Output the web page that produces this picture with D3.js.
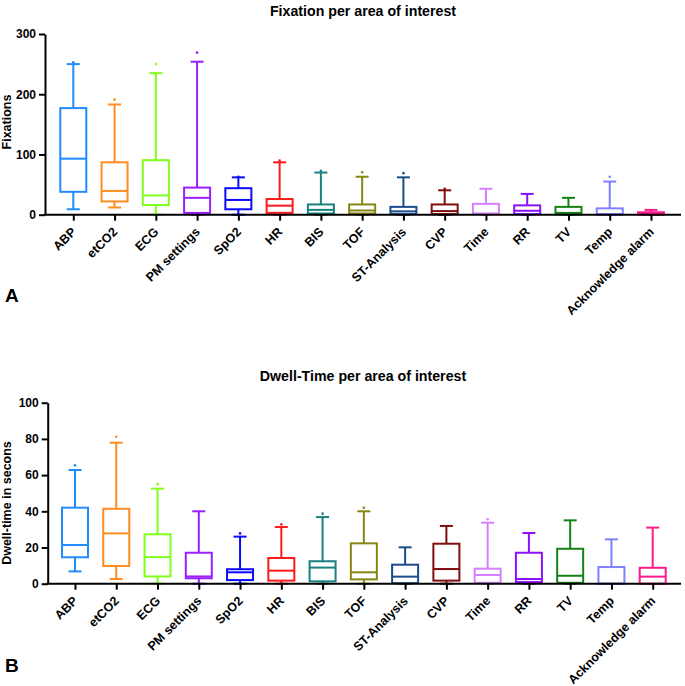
<!DOCTYPE html>
<html>
<head>
<meta charset="utf-8">
<script src="https://cdn.jsdelivr.net/npm/d3@7"></script>
<style>
  body { margin: 0; background: #fff; }
  svg { display: block; font-family: "Liberation Sans", Arial, sans-serif; }
  .tick text { font-weight: bold; fill: #000; }
  .xax .tick text { font-size: 12.5px; }
  .yax .tick text { font-size: 12px; font-family: "Liberation Sans Narrow", "Liberation Sans", Arial, sans-serif; }
  .ylab { font-family: "Liberation Sans Narrow", "Liberation Sans", Arial, sans-serif; font-weight: bold; font-size: 12.5px; }
</style>
</head>
<body>
<svg width="685" height="686"></svg>
<script>
const categories = ['ABP', 'etCO2', 'ECG', 'PM settings', 'SpO2', 'HR', 'BIS', 'TOF',
  'ST-Analysis', 'CVP', 'Time', 'RR', 'TV', 'Temp', 'Acknowledge alarm'];

const colors = ['#1f8bff', '#ff8c1f', '#80ff1a', '#9a1fff', '#0a0aff', '#ff1a1a', '#1a8080', '#868612',
  '#1a4c8c', '#800d0d', '#d67fff', '#8a12ff', '#148214', '#7f7fff', '#ff1a8c'];

// Fixations (panel A)
const fixMin = [9, 12, 0, 0, 0, 0, 0, 0, 0, 0, 0, 0, 0, 0, 0];
const fixQ1 = [38, 22, 16, 3, 9, 3, 2, 2, 1, 1, 1, 1, 0.5, 0, 0];
const fixMed = [93, 39.5, 32, 28, 24.5, 15, 8, 7, 5.5, 6, 2, 6.5, 3, 1, 2];
const fixQ3 = [177, 87, 90.5, 45, 44, 26, 17, 17, 13, 17, 18, 15.5, 13, 10.5, 4];
const fixMax = [250, 183, 235, 254, 62, 87, 70, 63, 62, 40.5, 43, 34.5, 28, 55, 8];
const fixOut = [253, 191, 250, 269, 63, 90, 73, 70.5, 69, 43, null, null, null, 63, null];
const fixTicks = [0, 100, 200, 300];

// Dwell-time (panel B)
const dwMin = [6.8, 2.6, 0, 0, 0, 0, 0, 0, 0, 0, 0, 0, 0, 0, 0];
const dwQ1 = [14.6, 9.8, 4, 3, 2, 1.7, 1.3, 2.4, 0.3, 1.7, 0.5, 0.9, 0.5, 0, 0];
const dwMed = [21.4, 27.8, 14.7, 4, 6.3, 7.2, 8.9, 6.3, 3.9, 8.1, 4.8, 2.6, 4.4, 0, 3.9];
const dwQ3 = [42, 41.4, 27.3, 17.1, 8, 14.2, 12.4, 22.3, 10.5, 22.1, 8.3, 17.1, 19.3, 9.2, 8.8];
const dwMax = [62.8, 77.9, 52.5, 40, 26, 31.3, 36.8, 40, 20.1, 31.9, 33.7, 28, 35, 24.5, 31];
const dwOut = [65.4, 81.2, 55, null, 27.8, 32.8, 38.7, 42, null, null, 35.6, null, null, null, null];
const dwTicks = [0, 20, 40, 60, 80, 100];

const svg = d3.select('svg');

function drawPanel(p) {
  const y = d3.scaleLinear().domain(p.domain).range([p.bottom, p.top]);
  const x = d3.scalePoint().domain(categories).range([p.firstX, p.lastX]);
  const g = svg.append('g');

  const rows = categories.map((c, i) => ({
    c, color: colors[i], min: p.min[i], q1: p.q1[i], med: p.med[i], q3: p.q3[i], max: p.max[i], out: p.out[i]
  }));

  const box = g.selectAll('g.box')
    .data(rows)
    .enter()
    .append('g')
    .attr('class', 'box')
    .attr('stroke', d => d.color)
    .attr('stroke-width', 2)
    .attr('fill', 'none');

  const bw = 26, cw = 13;

  // whiskers
  box.append('line')
    .attr('x1', d => x(d.c)).attr('x2', d => x(d.c))
    .attr('y1', d => y(d.max)).attr('y2', d => y(d.q3));
  box.append('line')
    .attr('x1', d => x(d.c)).attr('x2', d => x(d.c))
    .attr('y1', d => y(d.q1)).attr('y2', d => y(d.min));
  box.append('line')
    .attr('x1', d => x(d.c) - cw / 2).attr('x2', d => x(d.c) + cw / 2)
    .attr('y1', d => y(d.max)).attr('y2', d => y(d.max));
  box.append('line')
    .attr('x1', d => x(d.c) - cw / 2).attr('x2', d => x(d.c) + cw / 2)
    .attr('y1', d => y(d.min)).attr('y2', d => y(d.min));

  box.append('rect')
    .attr('x', d => x(d.c) - bw / 2)
    .attr('width', bw)
    .attr('y', d => y(d.q3))
    .attr('height', d => Math.max(y(d.q1) - y(d.q3), 1))
    .attr('fill', '#fff');

  box.append('line')
    .attr('x1', d => x(d.c) - bw / 2).attr('x2', d => x(d.c) + bw / 2)
    .attr('y1', d => y(d.med)).attr('y2', d => y(d.med));

  box.filter(d => d.out != null)
    .append('circle')
    .attr('cx', d => x(d.c))
    .attr('cy', d => y(d.out))
    .attr('r', 1.3)
    .attr('stroke', 'none')
    .attr('fill', d => d.color);

  // y axis
  const yAxis = g.append('g')
    .attr('class', 'yax')
    .attr('transform', `translate(${p.axisX},0)`)
    .call(d3.axisLeft(y).tickValues(p.ticks).tickSize(6).tickSizeOuter(0));
  yAxis.select('.domain').attr('stroke-width', 2);
  yAxis.selectAll('.tick line').attr('stroke-width', 2);

  // x axis
  const xAxis = g.append('g')
    .attr('class', 'xax')
    .attr('transform', `translate(0,${p.bottom})`)
    .call(d3.axisBottom(x).tickSize(6).tickSizeOuter(0));
  xAxis.select('.domain').remove();
  xAxis.selectAll('.tick line').attr('stroke-width', 2);
  xAxis.selectAll('.tick text')
    .attr('text-anchor', 'end')
    .attr('y', 0)
    .attr('dy', 0)
    .attr('transform', 'translate(3,18) rotate(-45)');
  g.append('line')
    .attr('x1', p.axisX - 1).attr('x2', 681)
    .attr('y1', p.bottom).attr('y2', p.bottom)
    .attr('stroke', '#000').attr('stroke-width', 2);

  g.append('text')
    .attr('x', 363).attr('y', p.titleY)
    .attr('text-anchor', 'middle')
    .style('font-weight', 'bold').style('font-size', '14.2px')
    .text(p.title);

  g.append('text')
    .attr('class', 'ylab')
    .attr('transform', `translate(11,${p.labelY}) rotate(-90)`)
    .attr('text-anchor', 'middle')
    .text(p.yLabel);

  g.append('text')
    .attr('x', 5).attr('y', p.letterY)
    .style('font-weight', 'bold').style('font-size', '19px')
    .text(p.letter);
}

drawPanel({
  domain: [0, 300], ticks: fixTicks, top: 34, bottom: 214.7, axisX: 45,
  firstX: 73.3, lastX: 651,
  min: fixMin, q1: fixQ1, med: fixMed, q3: fixQ3, max: fixMax, out: fixOut,
  title: 'Fixation per area of interest', titleY: 16,
  yLabel: 'Fixations', labelY: 122, letter: 'A', letterY: 302
});

drawPanel({
  domain: [0, 100], ticks: dwTicks, top: 402.7, bottom: 583.7, axisX: 47.7,
  firstX: 75, lastX: 652.7,
  min: dwMin, q1: dwQ1, med: dwMed, q3: dwQ3, max: dwMax, out: dwOut,
  title: 'Dwell-Time per area of interest', titleY: 381,
  yLabel: 'Dwell-time in secons', labelY: 503, letter: 'B', letterY: 672
});
</script>
</body>
</html>
